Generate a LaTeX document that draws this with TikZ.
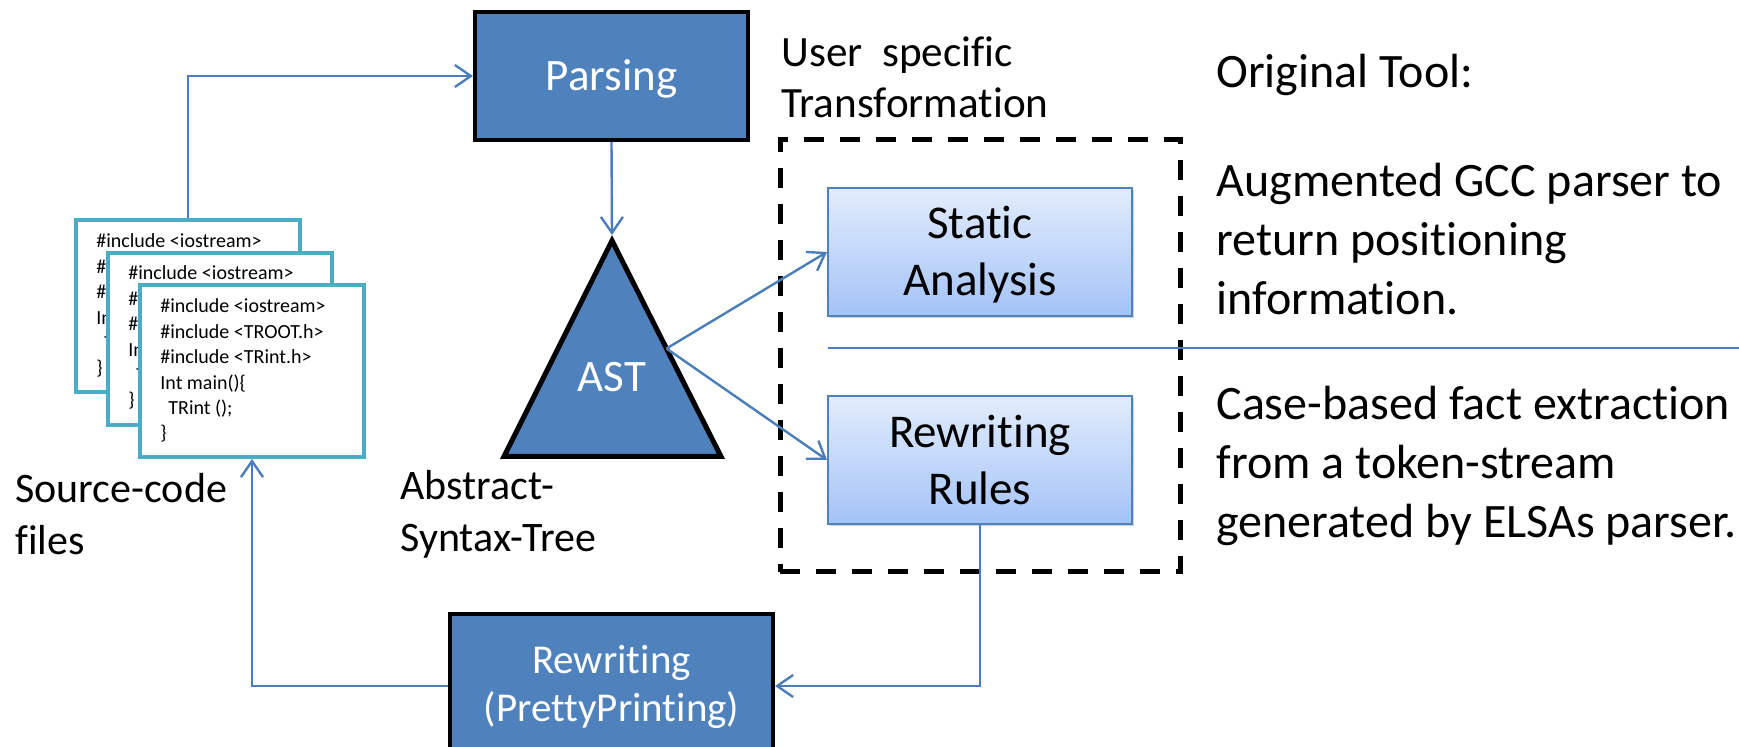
\documentclass[tikz,border=0pt]{standalone}
\usepackage{fontspec}
\setmainfont{Carlito}[Ligatures={NoCommon,NoContextual}]
\usetikzlibrary{arrows.meta,shadows,calc}

\definecolor{boxblue}{HTML}{4F81BD}
\definecolor{linkblue}{HTML}{4A7EBB}
\definecolor{cardteal}{HTML}{4BACC6}
\definecolor{gradtop}{HTML}{E2ECFD}
\definecolor{gradbot}{HTML}{A4C3F7}

% stacked lines whose first baseline is the node's base
\newcommand{\txtlines}[1]{\begin{tabular}[t]{@{}l@{}}#1\end{tabular}}
\newcommand{\ctrlines}[1]{\begin{tabular}[t]{@{}c@{}}#1\end{tabular}}

\begin{document}
\begin{tikzpicture}[x=0.5pt,y=-0.5pt,
  darkbox/.style={draw=black,line width=2pt,fill=boxblue,inner sep=0pt},
  darktext/.style={anchor=base,inner sep=0pt,text=white},
  lightbox/.style={draw=boxblue,line width=1pt,top color=gradtop,bottom color=gradbot,
    minimum width=152pt,minimum height=64pt,inner sep=0pt,
    drop shadow={shadow xshift=1.2pt,shadow yshift=-1.2pt,opacity=0.3,fill=black!60}},
  lighttext/.style={anchor=base,inner sep=0pt,font=\fontsize{23.5}{28.5}\selectfont},
  card/.style={draw=cardteal,line width=2pt,fill=white,minimum width=112pt,minimum height=86pt,inner sep=0pt},
  cardtext/.style={anchor=base west,inner sep=0pt,font=\fontsize{10}{12.7}\selectfont},
  tri/.style={draw=black,line width=2.5pt,fill=boxblue},
  region/.style={draw=black,line width=2.5pt,dash pattern=on 10pt off 8pt,minimum width=200pt,minimum height=216pt,inner sep=0pt},
  conn/.style={draw=linkblue,line width=1.2pt},
  arr/.style={conn,-{Straight Barb[length=8pt,width=11pt,line width=1.2pt]}},
  lbl/.style={anchor=base west,inner sep=0pt}
]
\useasboundingbox (0,0) rectangle (1739,747);
\clip (0,0) rectangle (1739,747);

% source-code files, back to front
\node[card] (cardA) at (188,306) {};
\node[cardtext] (cardAtxt) at (96,248) {\txtlines{\#include <iostream>\\\#include <TROOT.h>\\\#include <TRint.h>\\Int main()\{\\\hspace*{4pt}TRint ();\\\}}};
\node[card] (cardB) at (220,339) {};
\node[cardtext] (cardBtxt) at (128,280) {\txtlines{\#include <iostream>\\\#include <TROOT.h>\\\#include <TRint.h>\\Int main()\{\\\hspace*{4pt}TRint ();\\\}}};
\node[card] (cardC) at (252,371) {};
\node[cardtext] (cardCtxt) at (160,313) {\txtlines{\#include <iostream>\\\#include <TROOT.h>\\\#include <TRint.h>\\Int main()\{\\\hspace*{4pt}TRint ();\\\}}};

\node[lbl,font=\fontsize{21}{26}\selectfont] (srclbl) at (15,503) {\txtlines{Source-code\\files}};

% parsing step
\node[darkbox,minimum width=136.5pt,minimum height=64pt] (parse) at (611.5,76) {};
\node[darktext,font=\fontsize{22.5}{27}\selectfont] (parsetxt) at (611.5,91) {Parsing};

% abstract syntax tree
\coordinate (astTop) at (612,240.6);
\coordinate (astL) at (504,456.5);
\coordinate (astR) at (721,456.5);
\coordinate (astTip) at (612,235);
\draw[tri] (astTop) -- (astR) -- (astL) -- cycle;
\node[darktext,font=\fontsize{22.5}{27}\selectfont] (ast) at (612,392) {AST};
\coordinate (astOut) at ($(astTop)!0.5!(astR)$);
\node[lbl,font=\fontsize{21}{26}\selectfont] (astlbl) at (400,500) {\txtlines{Abstract-\\Syntax-Tree}};

% user specific transformation
\node[region] (trans) at (980,356) {};
\node[lbl,font=\fontsize{21.6}{25.5}\selectfont] (translbl) at (781,67) {\txtlines{User\ \ specific\\Transformation}};
\node[lightbox] (sa) at (980,252) {};
\node[lighttext] (satxt) at (980,239) {\ctrlines{Static\\Analysis}};
\node[lightbox] (rr) at (980,460) {};
\node[lighttext] (rrtxt) at (980,448) {\ctrlines{Rewriting\\Rules}};

% pretty printing step
\node[darkbox,minimum width=161.5pt,minimum height=72pt] (pp) at (611.5,686) {};
\node[darktext,font=\fontsize{20.5}{24}\selectfont] (pptxt) at (611.5,674) {\ctrlines{Rewriting\\(PrettyPrinting)}};

% original tool notes
\coordinate (sepL) at (828,348);
\coordinate (sepR) at (1739,348);
\draw[conn] (sepL) -- (sepR);
\node[lbl,font=\fontsize{24}{29.5}\selectfont] (origlbl) at (1216,88) {Original Tool:};
\node[lbl,font=\fontsize{24}{29.5}\selectfont] (gcclbl) at (1216,197) {\txtlines{Augmented GCC parser to\\return positioning\\information.}};
\node[lbl,font=\fontsize{24}{29.5}\selectfont] (elsalbl) at (1216,420) {\txtlines{Case-based fact extraction\\from a token-stream\\generated by ELSAs parser.}};

% connectors
\draw[arr] (cardA.north) |- (parse.west);
\draw[arr] (parse.south) -- (astTip);
\draw[arr] (astOut) -- (sa.west);
\draw[arr] (astOut) -- (rr.west);
\draw[arr] (rr.south) |- (pp.east);
\draw[arr] (pp.west) -| (cardC.south);
\end{tikzpicture}
\end{document}
